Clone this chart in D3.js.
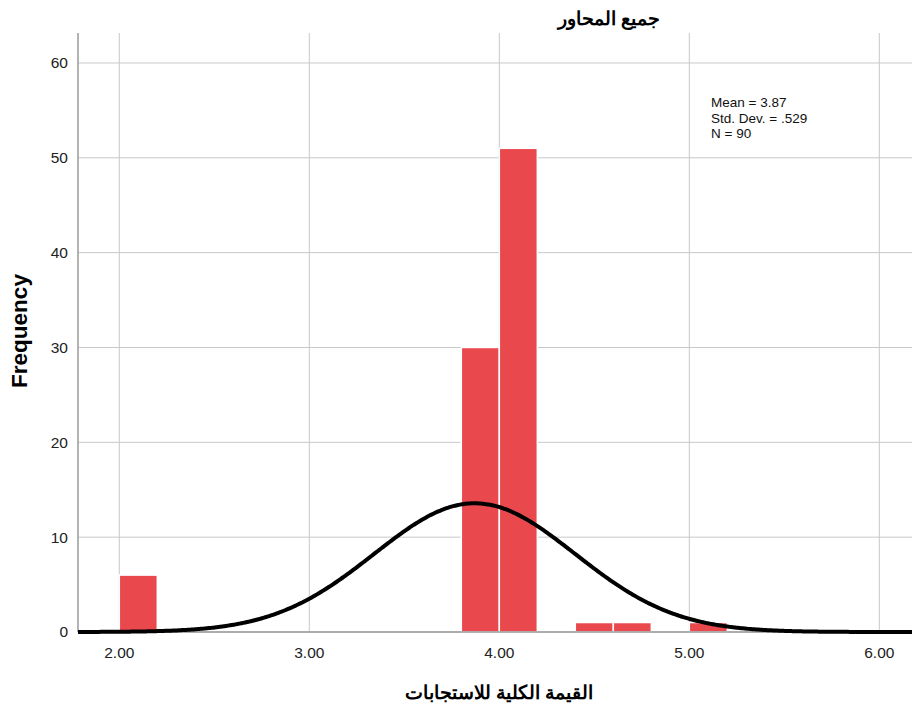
<!DOCTYPE html>
<html>
<head>
<meta charset="utf-8">
<script src="https://cdn.jsdelivr.net/npm/d3@7"></script>
<style>
  body { margin: 0; background: #fff; }
  svg { display: block; font-family: Arial, "Liberation Sans", sans-serif; }
</style>
</head>
<body>
<div id="chart"></div>
<script>
// histogram bins (lower edge), bin width and counts
const binStarts = [2.0, 3.8, 4.0, 4.4, 4.6, 5.0];
const binWidth = 0.2;
const counts = [6, 30, 51, 1, 1, 1];

const xTicks = [2, 3, 4, 5, 6];
const yTicks = [0, 10, 20, 30, 40, 50, 60];

const mean = 3.87;
const stdDev = 0.529;
const n = 90;

const chartTitle = 'جميع المحاور';
const xTitle = 'القيمة الكلية للاستجابات';
const yTitle = 'Frequency';

const width = 912, height = 711;
const plot = { left: 78, right: 912, top: 33, bottom: 632 };

const svg = d3.select('#chart').append('svg')
  .attr('width', width)
  .attr('height', height);

const x = d3.scaleLinear().domain([1.7826, 6.172]).range([plot.left, plot.right]);
const y = d3.scaleLinear().domain([0, 63.16]).range([plot.bottom, plot.top]);

// grid
svg.append('g').selectAll('line')
  .data(xTicks)
  .join('line')
  .attr('x1', d => x(d)).attr('x2', d => x(d))
  .attr('y1', plot.top).attr('y2', plot.bottom)
  .attr('stroke', '#c8c8c8').attr('stroke-width', 1);

svg.append('g').selectAll('line')
  .data(yTicks)
  .join('line')
  .attr('x1', plot.left).attr('x2', plot.right)
  .attr('y1', d => y(d)).attr('y2', d => y(d))
  .attr('stroke', '#c8c8c8').attr('stroke-width', 1);

// bars
svg.append('g').selectAll('rect')
  .data(binStarts.map((b, i) => ({ x0: b, count: counts[i] })))
  .join('rect')
  .attr('x', d => x(d.x0))
  .attr('y', d => y(d.count))
  .attr('width', x(binWidth) - x(0))
  .attr('height', d => y(0) - y(d.count))
  .attr('fill', '#e9484d')
  .attr('stroke', '#fff')
  .attr('stroke-width', 1.5);

// axes lines
svg.append('line')
  .attr('x1', plot.left).attr('x2', plot.left).attr('y1', plot.top).attr('y2', plot.bottom)
  .attr('stroke', '#9a9a9a').attr('stroke-width', 1.5);
svg.append('line')
  .attr('x1', plot.left).attr('x2', plot.right).attr('y1', plot.bottom).attr('y2', plot.bottom)
  .attr('stroke', '#9a9a9a').attr('stroke-width', 1.5);

// normal curve from mean / std. dev.
const scale = n * binWidth / (stdDev * Math.sqrt(2 * Math.PI));
const xs = d3.range(x.domain()[0], x.domain()[1] + 0.005, 0.01);
const line = d3.line()
  .x(d => x(d))
  .y(d => y(scale * Math.exp(-0.5 * ((d - mean) / stdDev) ** 2)))
  .curve(d3.curveBasis);
svg.append('path')
  .datum(xs)
  .attr('d', line)
  .attr('fill', 'none')
  .attr('stroke', '#000')
  .attr('stroke-width', 4);

// tick labels
svg.append('g').selectAll('text')
  .data(yTicks)
  .join('text')
  .attr('x', 68)
  .attr('y', d => y(d))
  .attr('dy', '0.35em')
  .attr('text-anchor', 'end')
  .attr('font-size', 15.5)
  .attr('fill', '#222')
  .text(d => d);

svg.append('g').selectAll('text')
  .data(xTicks)
  .join('text')
  .attr('x', d => x(d))
  .attr('y', 658)
  .attr('text-anchor', 'middle')
  .attr('font-size', 15.5)
  .attr('fill', '#222')
  .text(d => d3.format('.2f')(d));

// titles
svg.append('text')
  .attr('x', 609).attr('y', 25)
  .attr('text-anchor', 'middle')
  .attr('font-size', 19)
  .attr('font-weight', 'bold')
  .attr('direction', 'rtl')
  .text(chartTitle);

svg.append('text')
  .attr('x', 499).attr('y', 699)
  .attr('text-anchor', 'middle')
  .attr('font-size', 19)
  .attr('font-weight', 'bold')
  .attr('direction', 'rtl')
  .text(xTitle);

svg.append('text')
  .attr('transform', 'translate(27,331) rotate(-90)')
  .attr('text-anchor', 'middle')
  .attr('font-size', 22.5)
  .attr('font-weight', 'bold')
  .text(yTitle);

// stats box
const stats = [
  'Mean = ' + mean,
  'Std. Dev. = ' + d3.format('.3f')(stdDev).replace(/^0/, ''),
  'N = ' + n
];
svg.append('g').selectAll('text')
  .data(stats)
  .join('text')
  .attr('x', 711)
  .attr('y', (d, i) => 107 + i * 15.5)
  .attr('font-size', 13.5)
  .attr('fill', '#111')
  .text(d => d);
</script>
</body>
</html>
